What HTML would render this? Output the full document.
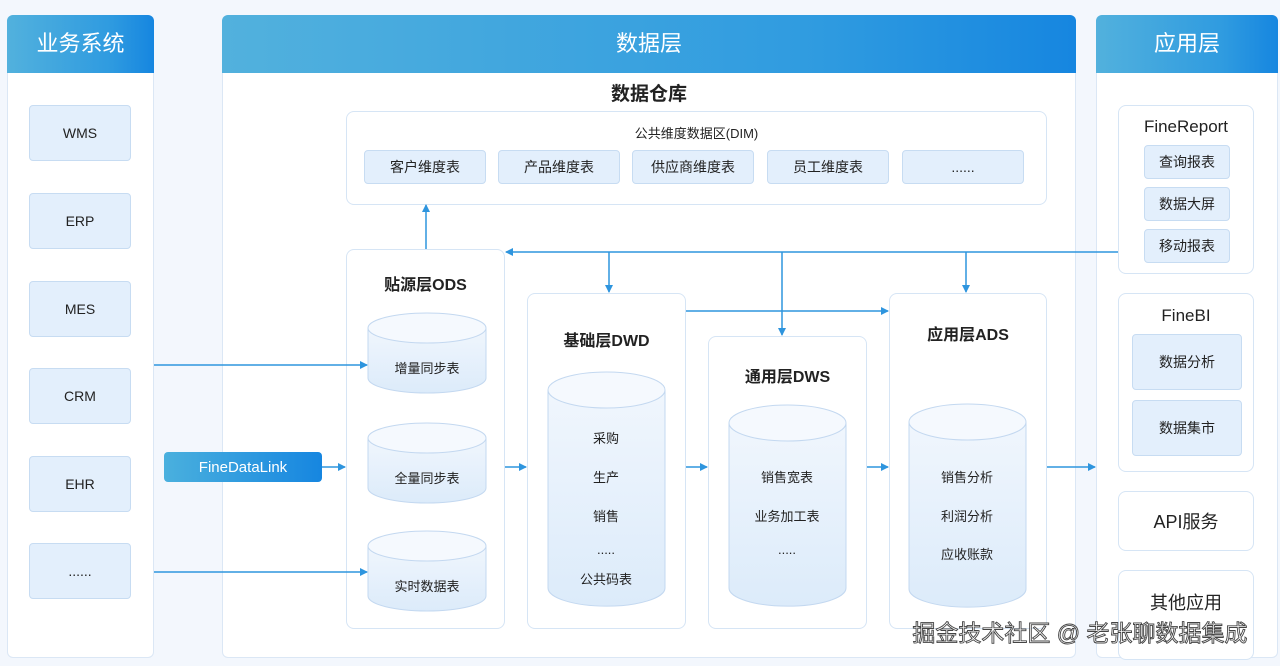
<!DOCTYPE html>
<html><head><meta charset="utf-8"><style>
*{margin:0;padding:0;box-sizing:border-box}
body{width:1280px;height:666px;background:#f3f7fd;position:relative;overflow:hidden;font-family:"Liberation Sans","Noto Sans CJK SC",sans-serif;color:#222}
.a{position:absolute}
.panel{background:#fff;border:1px solid #dbe7f5;border-radius:6px}
.hd{position:absolute;height:58px;top:15px;border-radius:6px 6px 0 0;background:linear-gradient(90deg,#52b1dd,#2f9be0 70%,#1686e0);color:#fff;font-size:22px;display:flex;align-items:center;justify-content:center;padding-bottom:4px}
.box{position:absolute;background:#e3effc;border:1px solid #c7dcf2;border-radius:4px;display:flex;align-items:center;justify-content:center;font-size:14px;color:#222}
.card{position:absolute;background:#fff;border:1px solid #d6e5f5;border-radius:8px}
.t{position:absolute;text-align:center;font-weight:bold;color:#222}
svg{position:absolute;left:0;top:0}
</style></head><body>
<div class="a panel" style="left:7px;top:15px;width:147px;height:643px"></div>
<div class="hd" style="left:7px;width:147px">业务系统</div>
<div class="a panel" style="left:222px;top:15px;width:854px;height:643px"></div>
<div class="hd" style="left:222px;width:854px">数据层</div>
<div class="a panel" style="left:1096px;top:15px;width:182px;height:643px"></div>
<div class="hd" style="left:1096px;width:182px">应用层</div>

<div class="box" style="left:29px;top:105px;width:102px;height:56px">WMS</div>
<div class="box" style="left:29px;top:193px;width:102px;height:56px">ERP</div>
<div class="box" style="left:29px;top:281px;width:102px;height:56px">MES</div>
<div class="box" style="left:29px;top:368px;width:102px;height:56px">CRM</div>
<div class="box" style="left:29px;top:456px;width:102px;height:56px">EHR</div>
<div class="box" style="left:29px;top:543px;width:102px;height:56px">......</div>

<div class="t" style="left:222px;width:854px;top:79px;font-size:19px">数据仓库</div>
<div class="card" style="left:346px;top:111px;width:701px;height:94px"></div>
<div class="a" style="left:346px;width:701px;top:123px;text-align:center;font-size:13px">公共维度数据区(DIM)</div>
<div class="box" style="left:364px;top:150px;width:122px;height:34px">客户维度表</div>
<div class="box" style="left:498px;top:150px;width:122px;height:34px">产品维度表</div>
<div class="box" style="left:632px;top:150px;width:122px;height:34px">供应商维度表</div>
<div class="box" style="left:767px;top:150px;width:122px;height:34px">员工维度表</div>
<div class="box" style="left:902px;top:150px;width:122px;height:34px">......</div>

<div class="card" style="left:346px;top:249px;width:159px;height:380px"></div>
<div class="card" style="left:527px;top:293px;width:159px;height:336px"></div>
<div class="card" style="left:708px;top:336px;width:159px;height:293px"></div>
<div class="card" style="left:889px;top:293px;width:158px;height:336px"></div>
<div class="t" style="left:346px;width:159px;top:271px;font-size:16px">贴源层ODS</div>
<div class="t" style="left:527px;width:159px;top:327px;font-size:16px">基础层DWD</div>
<div class="t" style="left:708px;width:159px;top:363px;font-size:16px">通用层DWS</div>
<div class="t" style="left:889px;width:158px;top:321px;font-size:16px">应用层ADS</div>

<div class="box" style="left:164px;top:452px;width:158px;height:30px;background:linear-gradient(90deg,#4ab0de,#1686e0);border:none;color:#fff;font-size:15px">FineDataLink</div>

<div class="card" style="left:1118px;top:105px;width:136px;height:169px"></div>
<div class="a" style="left:1118px;width:136px;top:117px;text-align:center;font-size:17px">FineReport</div>
<div class="box" style="left:1144px;top:145px;width:86px;height:34px">查询报表</div>
<div class="box" style="left:1144px;top:187px;width:86px;height:34px">数据大屏</div>
<div class="box" style="left:1144px;top:229px;width:86px;height:34px">移动报表</div>
<div class="card" style="left:1118px;top:293px;width:136px;height:179px"></div>
<div class="a" style="left:1118px;width:136px;top:306px;text-align:center;font-size:17px">FineBI</div>
<div class="box" style="left:1132px;top:334px;width:110px;height:56px">数据分析</div>
<div class="box" style="left:1132px;top:400px;width:110px;height:56px">数据集市</div>
<div class="card" style="left:1118px;top:491px;width:136px;height:60px;display:flex;align-items:center;justify-content:center;font-size:18px">API服务</div>
<div class="card" style="left:1118px;top:570px;width:136px;height:90px"></div>
<div class="a" style="left:1118px;width:136px;top:589px;text-align:center;font-size:18px">其他应用</div>

<svg width="1280" height="666" viewBox="0 0 1280 666">
<defs>
<marker id="ar" markerWidth="8" markerHeight="8" refX="7" refY="4" orient="auto" markerUnits="userSpaceOnUse"><path d="M0,0 L8,4 L0,8z" fill="#2e95de"/></marker>
<linearGradient id="cg" x1="0" y1="0" x2="0" y2="1"><stop offset="0" stop-color="#f0f6fd"/><stop offset="1" stop-color="#dcebfa"/></linearGradient>
</defs>
<g fill="url(#cg)" stroke="#c3d8f0">
<path d="M368,328 v50 a59,15 0 0 0 118,0 v-50"/><ellipse cx="427" cy="328" rx="59" ry="15" fill="#f5f9fe"/>
<path d="M368,438 v50 a59,15 0 0 0 118,0 v-50"/><ellipse cx="427" cy="438" rx="59" ry="15" fill="#f5f9fe"/>
<path d="M368,546 v50 a59,15 0 0 0 118,0 v-50"/><ellipse cx="427" cy="546" rx="59" ry="15" fill="#f5f9fe"/>
<path d="M548,390 v198 a58,18 0 0 0 117,0 v-198"/><ellipse cx="606.5" cy="390" rx="58.5" ry="18" fill="#f5f9fe"/>
<path d="M729,423 v165 a58,18 0 0 0 117,0 v-165"/><ellipse cx="787.5" cy="423" rx="58.5" ry="18" fill="#f5f9fe"/>
<path d="M909,422 v167 a58,18 0 0 0 117,0 v-167"/><ellipse cx="967.5" cy="422" rx="58.5" ry="18" fill="#f5f9fe"/>
</g>
<g font-size="13" fill="#222" text-anchor="middle" font-family="Liberation Sans,Noto Sans CJK SC,sans-serif">
<text x="427" y="373">增量同步表</text><text x="427" y="483">全量同步表</text><text x="427" y="591">实时数据表</text>
<text x="606" y="443">采购</text><text x="606" y="482">生产</text><text x="606" y="521">销售</text><text x="606" y="554">.....</text><text x="606" y="584">公共码表</text>
<text x="787" y="482">销售宽表</text><text x="787" y="521">业务加工表</text><text x="787" y="554">.....</text>
<text x="967" y="482">销售分析</text><text x="967" y="521">利润分析</text><text x="967" y="559">应收账款</text>
</g>
<g stroke="#2e95de" stroke-width="1.5" fill="none">
<line x1="154" y1="365" x2="367" y2="365" marker-end="url(#ar)"/>
<line x1="154" y1="572" x2="367" y2="572" marker-end="url(#ar)"/>
<line x1="322" y1="467" x2="345" y2="467" marker-end="url(#ar)"/>
<line x1="505" y1="467" x2="526" y2="467" marker-end="url(#ar)"/>
<line x1="686" y1="467" x2="707" y2="467" marker-end="url(#ar)"/>
<line x1="867" y1="467" x2="888" y2="467" marker-end="url(#ar)"/>
<line x1="1047" y1="467" x2="1095" y2="467" marker-end="url(#ar)"/>
<line x1="426" y1="249" x2="426" y2="205" marker-end="url(#ar)"/>
<line x1="1118" y1="252" x2="506" y2="252" marker-end="url(#ar)"/>
<line x1="609" y1="252" x2="609" y2="292" marker-end="url(#ar)"/>
<line x1="782" y1="252" x2="782" y2="335" marker-end="url(#ar)"/>
<line x1="966" y1="252" x2="966" y2="292" marker-end="url(#ar)"/>
<line x1="686" y1="311" x2="888" y2="311" marker-end="url(#ar)"/>
</g>
<text x="1080" y="641" font-size="23" fill="#fff" stroke="#444" stroke-width="0.9" text-anchor="middle" font-family="Liberation Sans,Noto Sans CJK SC,sans-serif">掘金技术社区 @ 老张聊数据集成</text>
</svg>
</body></html>
